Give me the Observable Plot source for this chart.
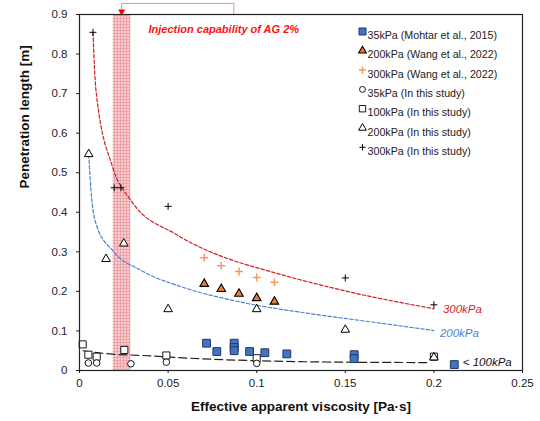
<!DOCTYPE html>
<html><head><meta charset="utf-8">
<script src="https://cdn.jsdelivr.net/npm/d3@7"></script>
<script src="https://cdn.jsdelivr.net/npm/@observablehq/plot@0.6"></script>
<style>body{margin:0;background:#fff}</style>
</head><body><div id="chart"></div>
<script>
// ---- axes ----
const xTicks = [0, 0.05, 0.1, 0.15, 0.2, 0.25];
const xTickLabels = ["0", "0.05", "0.1", "0.15", "0.2", "0.25"];
const yTicks = [0, 0.1, 0.2, 0.3, 0.4, 0.5, 0.6, 0.7, 0.8, 0.9];
const yTickLabels = ["0", "0.1", "0.2", "0.3", "0.4", "0.5", "0.6", "0.7", "0.8", "0.9"];
const xDomain = [0, 0.25];
const yDomain = [0, 0.9];

// ---- series ----
const mohtar35X = [0.0717, 0.0775, 0.0873, 0.0873, 0.0873, 0.096, 0.1046, 0.117, 0.155, 0.155, 0.2115];
const mohtar35Y = [0.069, 0.048, 0.069, 0.058, 0.050, 0.048, 0.045, 0.042, 0.040, 0.030, 0.015];
const wang200X = [0.0704, 0.080, 0.090, 0.100, 0.110];
const wang200Y = [0.219, 0.206, 0.194, 0.183, 0.174];
const wang300X = [0.0704, 0.080, 0.090, 0.100, 0.110];
const wang300Y = [0.285, 0.265, 0.250, 0.235, 0.223];
const study35X = [0.005, 0.0097, 0.029, 0.049, 0.100];
const study35Y = [0.019, 0.019, 0.017, 0.021, 0.018];
const study100X = [0.0018, 0.005, 0.0097, 0.0253, 0.049, 0.100, 0.200];
const study100Y = [0.066, 0.040, 0.035, 0.052, 0.038, 0.031, 0.035];
const study200X = [0.0052, 0.015, 0.025, 0.050, 0.100, 0.150, 0.200];
const study200Y = [0.547, 0.282, 0.321, 0.155, 0.155, 0.103, 0.033];
const study300X = [0.0076, 0.0196, 0.0234, 0.050, 0.150, 0.200];
const study300Y = [0.855, 0.462, 0.462, 0.415, 0.234, 0.166];

// ---- trend curves ----
const fit300X = [0.0076, 0.0093, 0.0187, 0.029, 0.055, 0.0888, 0.100, 0.130, 0.156, 0.200];
const fit300Y = [0.855, 0.708, 0.514, 0.430, 0.343, 0.275, 0.260, 0.223, 0.195, 0.156];
const fit200X = [0.0052, 0.0065, 0.0093, 0.0187, 0.0347, 0.0572, 0.0888, 0.133, 0.156, 0.200];
const fit200Y = [0.546, 0.455, 0.371, 0.303, 0.253, 0.212, 0.175, 0.142, 0.128, 0.101];
const fit100X = [0.002, 0.0168, 0.0356, 0.058, 0.130, 0.196];
const fit100Y = [0.050, 0.042, 0.038, 0.032, 0.022, 0.020];
const fitLabels = ["300kPa", "200kPa", "< 100kPa"];

// ---- annotation ----
const bandRange = [0.019, 0.029];
const bracketX = [0.0238, 0.0238, 0.0871, 0.0871];
const bracketY = [0.9, 0.928, 0.928, 0.9];
const annoText = "Injection capability of AG 2%";

const legendLabels = [
  "35kPa (Mohtar et al., 2015)",
  "200kPa (Wang et al., 2022)",
  "300kPa (Wang et al., 2022)",
  "35kPa (In this study)",
  "100kPa (In this study)",
  "200kPa (In this study)",
  "300kPa (In this study)"
];
const xTitle = "Effective apparent viscosity [Pa·s]";
const yTitle = "Penetration length [m]";

const rows = (xs, ys) => xs.map((x, i) => ({x, y: ys[i]}));

// styles per series
const seriesStyles = [
  {symbol: "square", r: 4.4, fill: "#4472c4", stroke: "#1f3864", strokeWidth: 1},
  {symbol: "triangle", r: 3.2, fill: "#ed7d31", stroke: "#000", strokeWidth: 1.1},
  {symbol: "plus", r: 2.7, fill: "none", stroke: "#f79a5a", strokeWidth: 1.5},
  {symbol: "circle", r: 3.3, fill: "#fff", stroke: "#000", strokeWidth: 0.9},
  {symbol: "square", r: 4.0, fill: "#fff", stroke: "#000", strokeWidth: 0.9},
  {symbol: "triangle", r: 3.2, fill: "#fff", stroke: "#000", strokeWidth: 1.0},
  {symbol: "plus", r: 2.4, fill: "none", stroke: "#000", strokeWidth: 1.0}
];
const seriesData = [
  rows(mohtar35X, mohtar35Y),
  rows(wang200X, wang200Y),
  rows(wang300X, wang300Y),
  rows(study35X, study35Y),
  rows(study100X, study100Y),
  rows(study200X, study200Y),
  rows(study300X, study300Y)
];
const drawOrder = [4, 3, 0, 1, 2, 5, 6];

const legendMarks = [];
legendLabels.forEach((lab, i) => {
  const s = seriesStyles[i];
  legendMarks.push(Plot.dot([lab], {frameAnchor: "top-left", dx: 283, dy: 17 + 19.3 * i,
    symbol: s.symbol, r: s.r * 0.9, fill: s.fill, stroke: s.stroke, strokeWidth: s.strokeWidth}));
  legendMarks.push(Plot.text([lab], {frameAnchor: "top-left", dx: 288, dy: 17 + 19.3 * i,
    text: d => d, textAnchor: "start", fontSize: 10.7, fill: "#222"}));
});

const chart = Plot.plot({
  width: 540, height: 421,
  marginLeft: 79, marginRight: 18, marginTop: 14, marginBottom: 51,
  style: {fontFamily: "'Liberation Sans', Arial, sans-serif", fontSize: "11.5px", color: "#222", background: "#fff"},
  x: {domain: xDomain},
  y: {domain: yDomain},
  marks: [
    Plot.rect([bandRange], {x1: d => d[0], x2: d => d[1], fill: "url(#hatch)"}),
    Plot.line(rows(bracketX, bracketY), {x: "x", y: "y", stroke: "#f28b8b", strokeWidth: 1}),
    Plot.dot([{x: bracketX[0], y: bracketY[0]}], {x: "x", y: "y", symbol: "triangle", rotate: 180, r: 2.6, fill: "#ff0000", dy: -3}),
    Plot.text([annoText], {frameAnchor: "top-left", dx: 69, dy: 11, text: d => d, textAnchor: "start",
      fill: "#ff1010", fontWeight: "bold", fontStyle: "italic", fontSize: 11}),
    Plot.line(rows(fit300X, fit300Y), {x: "x", y: "y", stroke: "#d21f26", strokeWidth: 1.2, strokeDasharray: "3.5,2", curve: "monotone-x"}),
    Plot.line(rows(fit200X, fit200Y), {x: "x", y: "y", stroke: "#4f82d6", strokeWidth: 1.2, strokeDasharray: "3.5,2", curve: "monotone-x"}),
    Plot.line(rows(fit100X, fit100Y), {x: "x", y: "y", stroke: "#222", strokeWidth: 1.2, strokeDasharray: "8,4", curve: "monotone-x"}),
    Plot.text([fitLabels[0]], {x: fit300X[fit300X.length - 1], y: fit300Y[fit300Y.length - 1], text: d => d, dx: 9, dy: 1,
      textAnchor: "start", fill: "#d21f26", fontStyle: "italic", fontSize: 11.5}),
    Plot.text([fitLabels[1]], {x: fit200X[fit200X.length - 1], y: fit200Y[fit200Y.length - 1], text: d => d, dx: 6, dy: 3,
      textAnchor: "start", fill: "#4f82d6", fontStyle: "italic", fontSize: 11.5}),
    Plot.text([fitLabels[2]], {x: fit100X[fit100X.length - 1], y: fit100Y[fit100Y.length - 1], text: d => d, dx: 36, dy: 0,
      textAnchor: "start", fill: "#111", fontStyle: "italic", fontSize: 11.5}),
    ...drawOrder.map(i => Plot.dot(seriesData[i], {x: "x", y: "y", ...seriesStyles[i]})),
    Plot.frame({stroke: "#222", strokeWidth: 1.2}),
    Plot.axisX({ticks: xTicks, tickFormat: d => xTickLabels[xTicks.indexOf(d)], tickSize: 3, tickPadding: 5, label: null}),
    Plot.axisY({ticks: yTicks, tickFormat: d => yTickLabels[yTicks.indexOf(d)], tickSize: 3, tickPadding: 9, label: null}),
    Plot.text([xTitle], {frameAnchor: "bottom", dy: 40, text: d => d, fontWeight: "bold", fontSize: 13.5, fill: "#111"}),
    Plot.text([yTitle], {frameAnchor: "left", dx: -55, dy: -4, rotate: -90, text: d => d, fontWeight: "bold", fontSize: 13.5, fill: "#111"}),
    ...legendMarks
  ]
});

d3.select(chart).insert("defs", ":first-child").html(
  '<pattern id="hatch" width="3" height="3" patternUnits="userSpaceOnUse">' +
  '<rect width="3" height="3" fill="#f7cdcf"/>' +
  '<path d="M0 0.5H3M0.5 0V3" stroke="#eea3a8" stroke-width="1"/></pattern>');

document.getElementById("chart").appendChild(chart);
</script>
</body></html>
